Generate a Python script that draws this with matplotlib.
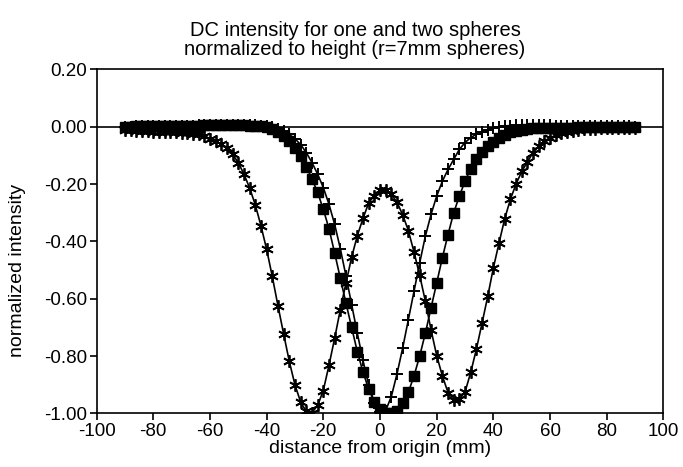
# DC intensity for one and two spheres
import numpy as np
import matplotlib
matplotlib.use('Agg')
import matplotlib.pyplot as plt

plt.rcParams['font.family'] = ['Liberation Sans', 'DejaVu Sans']
plt.rcParams['axes.unicode_minus'] = False

# sample positions (mm), 2 mm step
distance = np.arange(-90, 92, 2)

# one sphere (filled squares)
one_sphere_sq = [
    0.0, 0.0, 0.001, 0.001, 0.001, 0.002, 0.002, 0.002, 0.003, 0.003,
    0.003, 0.004, 0.004, 0.004, 0.005, 0.005, 0.005, 0.005, 0.005, 0.005,
    0.005, 0.005, 0.004, 0.003, 0.002, -0.002, -0.008, -0.018, -0.032, -0.05,
    -0.073, -0.102, -0.139, -0.182, -0.229, -0.288, -0.355, -0.44, -0.528, -0.615,
    -0.70, -0.784, -0.855, -0.915, -0.96, -0.986, -0.998, -1.0, -0.99, -0.964,
    -0.926, -0.869, -0.80, -0.72, -0.632, -0.545, -0.457, -0.376, -0.30, -0.242,
    -0.19, -0.146, -0.114, -0.087, -0.067, -0.052, -0.038, -0.028, -0.02, -0.015,
    -0.011, -0.008, -0.006, -0.005, -0.004, -0.004, -0.003, -0.003, -0.003, -0.003,
    -0.002, -0.002, -0.002, -0.002, -0.002, -0.002, -0.001, -0.001, -0.001, -0.001,
    -0.001]

# one sphere (plus)
one_sphere_plus = [
    0.0, 0.0, 0.001, 0.001, 0.002, 0.002, 0.002, 0.003, 0.003, 0.003,
    0.004, 0.004, 0.004, 0.005, 0.005, 0.005, 0.006, 0.006, 0.006, 0.006,
    0.006, 0.006, 0.006, 0.005, 0.004, 0.002, -0.002, -0.008, -0.016, -0.027,
    -0.042, -0.062, -0.09, -0.125, -0.165, -0.212, -0.27, -0.34, -0.425, -0.52,
    -0.62, -0.72, -0.815, -0.90, -0.963, -0.995, -0.99, -0.941, -0.862, -0.772,
    -0.673, -0.574, -0.475, -0.382, -0.306, -0.242, -0.19, -0.149, -0.114, -0.079,
    -0.055, -0.038, -0.026, -0.017, -0.011, -0.005, 0.0, 0.003, 0.004, 0.005,
    0.005, 0.005, 0.005, 0.005, 0.005, 0.005, 0.004, 0.004, 0.004, 0.004,
    0.004, 0.003, 0.003, 0.003, 0.002, 0.002, 0.002, 0.001, 0.001, 0.001,
    0.0]

# two spheres (asterisk)
two_spheres = [
    -0.012, -0.013, -0.014, -0.015, -0.016, -0.017, -0.018, -0.019, -0.019, -0.02,
    -0.021, -0.022, -0.024, -0.027, -0.033, -0.041, -0.05, -0.06, -0.075, -0.096,
    -0.125, -0.165, -0.213, -0.272, -0.345, -0.427, -0.522, -0.624, -0.722, -0.818,
    -0.90, -0.96, -0.993, -0.997, -0.972, -0.92, -0.832, -0.738, -0.638, -0.545,
    -0.455, -0.38, -0.32, -0.266, -0.24, -0.222, -0.222, -0.236, -0.263, -0.307,
    -0.362, -0.437, -0.518, -0.608, -0.708, -0.798, -0.869, -0.927, -0.952, -0.95,
    -0.925, -0.857, -0.776, -0.685, -0.592, -0.492, -0.405, -0.321, -0.253, -0.20,
    -0.156, -0.123, -0.09, -0.068, -0.05, -0.038, -0.03, -0.023, -0.018, -0.014,
    -0.011, -0.009, -0.008, -0.007, -0.006, -0.005, -0.005, -0.004, -0.004, -0.003,
    -0.003]

xticks = [-100, -80, -60, -40, -20, 0, 20, 40, 60, 80, 100]
yticks = [0.20, 0.00, -0.20, -0.40, -0.60, -0.80, -1.00]

fig = plt.figure(figsize=(6.83, 4.67), dpi=100)
ax = fig.add_axes([0.1413, 0.1146, 0.8301, 0.7368])

ax.axhline(0, color='k', lw=1.2)
ax.plot(distance, two_spheres, 'k-', lw=1.2, marker=(6, 2, 0), ms=9, mew=1.3)
ax.plot(distance, one_sphere_plus, 'k-', lw=1.2, marker='+', ms=8, mew=1.4)
ax.plot(distance, one_sphere_sq, 'k-', lw=1.2, marker='s', ms=6.5)

ax.set_xlim(-100, 100)
ax.set_ylim(-1.0, 0.2)
ax.set_xticks(xticks)
ax.set_yticks(yticks)
ax.set_yticklabels(['%.2f' % v for v in yticks])
ax.tick_params(direction='out', length=5, width=1.2, labelsize=13.5, pad=2)
for s in ax.spines.values():
    s.set_linewidth(1.2)

ax.set_xlabel('distance from origin (mm)', fontsize=14, labelpad=0)
fig.text(18 / 683, 1 - 270 / 467, 'normalized intensity', rotation=90,
         ha='center', va='center', fontsize=14)
fig.text(355 / 683, 1 - 40 / 467,
         'DC intensity for one and two spheres\nnormalized to height (r=7mm spheres)',
         ha='center', va='center', fontsize=14.5, linespacing=1.0)

fig.savefig('out.png', dpi=100)
